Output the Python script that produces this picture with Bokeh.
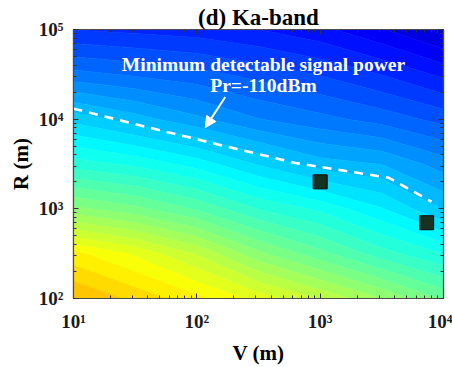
import numpy as np
from bokeh.plotting import figure
from bokeh.plotting.contour import contour_data
from bokeh.models import (ColumnDataSource, FixedTicker, LogAxis, Label, Arrow,
                          NormalHead, CustomJSTickFormatter, Range1d)
from bokeh.embed import file_html
from bokeh.resources import INLINE

# ---------------- data ----------------
# grid of received power Pr (dBm) over V (m) and R (m)
v_grid = [10, 31.6, 100, 316, 1000, 3162, 10000]
r_grid = [100, 316, 1000, 3162, 10000, 31623, 100000]
pr_dbm = [
    [-64.8, -68.2, -71.8, -76.0, -80.2, -85.0, -90.4],       # R = 1e2
    [-71.8, -75.4, -80.2, -86.8, -91.6, -96.4, -100.0],      # R = 3e2
    [-86.8, -89.2, -92.8, -97.6, -100.6, -104.8, -110.2],    # R = 1e3
    [-98.8, -100.6, -103.6, -107.8, -111.4, -112.6, -116.2], # R = 3e3
    [-108.4, -111.4, -114.4, -117.4, -119.2, -121.0, -123.4],# R = 1e4
    [-119.2, -120.4, -121.6, -123.4, -125.2, -127.6, -130.6],# R = 3e4
    [-127.6, -128.2, -128.8, -130.0, -131.8, -134.8, -138.4],# R = 1e5
]
# minimum detectable signal power contour (Pr = -110 dBm)
thr_v = [10, 35, 145, 630, 1460, 3600, 8000]
thr_r = [13100, 8500, 5260, 3250, 2700, 2220, 1200]
# marked targets
target_v = [1000, 7300]
target_r = [2000, 700]
# tick labels
x_ticks = [10, 100, 1000, 10000]
x_tick_labels = ["10\u00b9", "10\u00b2", "10\u00b3", "10\u2074"]
y_ticks = [100, 1000, 10000, 100000]
y_tick_labels = ["10\u00b2", "10\u00b3", "10\u2074", "10\u2075"]

# ---------------- colour map (jet) ----------------
c_low, c_high = -148.0, -28.0


def jet(f):
    def c(v):
        return int(round(255 * min(max(v, 0.0), 1.0)))
    r = c(1.5 - abs(4 * f - 3))
    g = c(1.5 - abs(4 * f - 2))
    b = c(1.5 - abs(4 * f - 1))
    return "#%02x%02x%02x" % (r, g, b)


levels = np.arange(-140.0, -59.9, 2.5)
cd = contour_data(np.log10(v_grid), np.log10(r_grid), np.array(pr_dbm), levels,
                  want_line=False)
fd = cd.fill_data


def to_lin(obj):
    if isinstance(obj, np.ndarray):
        return 10.0 ** obj
    return [to_lin(o) for o in obj]


xs, ys, cols = [], [], []
for i in range(len(fd.xs)):
    if len(fd.xs[i]) == 0:
        continue
    xs.append(to_lin(fd.xs[i]))
    ys.append(to_lin(fd.ys[i]))
    mid = 0.5 * (fd.lower_levels[i] + fd.upper_levels[i])
    cols.append(jet((mid - c_low) / (c_high - c_low)))

# ---------------- figure ----------------
FONT = "Liberation Serif"
p = figure(width=452, height=367, x_axis_type="log", y_axis_type="log",
           x_range=Range1d(10, 10000), y_range=Range1d(100, 100000),
           output_backend="svg", toolbar_location=None,
           min_border_left=73, min_border_right=9, min_border_bottom=66,
           min_border_top=29)
p.grid.visible = False
p.background_fill_color = "white"
p.border_fill_color = "white"
p.outline_line_color = "#4d4d4d"
p.outline_line_width = 1.2

p.title.text = "(d) Ka-band"
p.title.align = "center"
p.title.text_font = FONT
p.title.text_font_style = "bold"
p.title.text_font_size = "23px"
p.title.text_color = "black"
p.title.standoff = 0

src = ColumnDataSource(dict(xs=xs, ys=ys, color=cols))
p.multi_polygons(xs="xs", ys="ys", fill_color="color", line_color="color",
                 line_width=0.6, source=src)

p.line(thr_v, thr_r, line_color="white", line_width=2.6, line_dash="9 7")
p.scatter(target_v, target_r, marker="square", size=14, fill_color="#153222",
          line_color="#0a0a0a", line_width=1)

p.add_layout(Arrow(end=NormalHead(size=11, fill_color="white", line_color="white"),
                   x_start=170, y_start=17660, x_end=117, y_end=8040,
                   line_color="white", line_width=2))
for txt, yy in [("Minimum detectable signal power", 41100), ("Pr=-110dBm", 23500)]:
    p.add_layout(Label(x=347, y=yy, text=txt, text_align="center",
                       text_baseline="alphabetic", text_font=FONT,
                       text_font_style="bold", text_font_size="19.5px",
                       text_color="white"))

x_minor = [k * 10 ** n for n in range(1, 4) for k in range(2, 10)]
y_minor = [k * 10 ** n for n in range(2, 5) for k in range(2, 10)]
xt = FixedTicker(ticks=x_ticks, minor_ticks=x_minor)
yt = FixedTicker(ticks=y_ticks, minor_ticks=y_minor)


def style(ax):
    ax.major_tick_in = 5
    ax.major_tick_out = 0
    ax.minor_tick_in = 3
    ax.minor_tick_out = 0
    ax.axis_line_color = "#4d4d4d"
    ax.axis_line_width = 1.2
    ax.major_tick_line_color = "#333333"
    ax.minor_tick_line_color = "#333333"
    ax.major_label_text_font = FONT
    ax.major_label_text_font_style = "bold"
    ax.major_label_text_font_size = "19px"
    ax.major_label_text_color = "#1a1a1a"
    ax.axis_label_text_font = FONT
    ax.axis_label_text_font_style = "bold"
    ax.axis_label_text_font_size = "21px"
    ax.axis_label_text_color = "black"


p.xaxis.ticker = xt
p.yaxis.ticker = yt
p.xaxis.major_label_overrides = dict(zip(x_ticks, x_tick_labels))
p.yaxis.major_label_overrides = dict(zip(y_ticks, y_tick_labels))
style(p.xaxis[0])
style(p.yaxis[0])
p.xaxis.major_label_standoff = 12
p.yaxis.major_label_standoff = 10
p.xaxis.axis_label = "V (m)"
p.yaxis.axis_label = "R (m)"
p.xaxis.axis_label_standoff = 6
p.yaxis.axis_label_standoff = 3

top = LogAxis(ticker=xt, formatter=CustomJSTickFormatter(code="return ''"))
right = LogAxis(ticker=yt, formatter=CustomJSTickFormatter(code="return ''"))
for ax in (top, right):
    style(ax)
    ax.major_label_standoff = 0
    ax.major_label_text_font_size = "1px"
p.add_layout(top, "above")
p.add_layout(right, "right")

open("out.html", "w").write(file_html(p, INLINE))
